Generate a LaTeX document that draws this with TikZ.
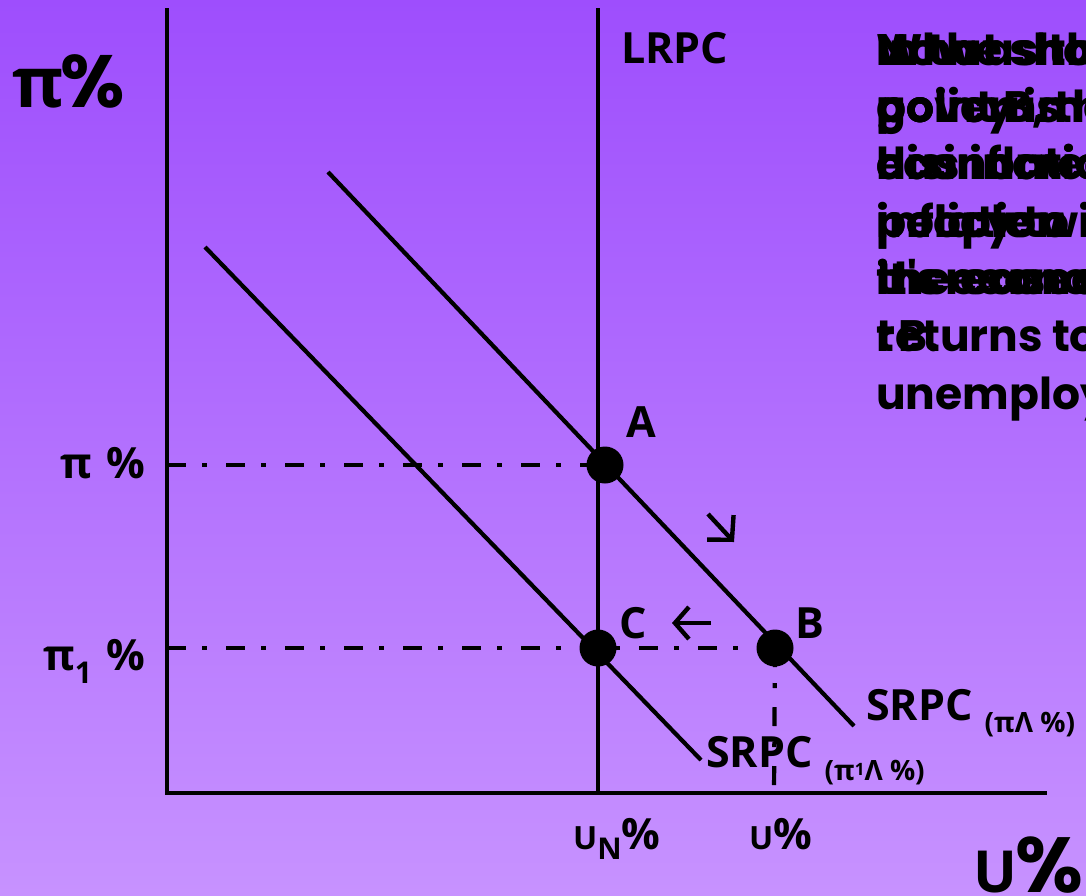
\documentclass[tikz,border=0pt]{standalone}
\usepackage{fontspec}
\setmainfont{Open Sans}
\newfontfamily\gothic{Poppins}
\usetikzlibrary{arrows.meta}
\definecolor{bgtop}{RGB}{158,78,253}
\definecolor{bgbot}{RGB}{199,146,255}
\begin{document}
\begin{tikzpicture}[x=1pt,y=-1pt,
  axisline/.style={line width=4.2pt},
  curveline/.style={line width=4.2pt},
  guideline/.style={line width=4.2pt, dash pattern=on 19pt off 16pt on 5pt off 19pt},
  eqpt/.style={circle, fill=black, minimum size=37pt, inner sep=0pt},
  lab/.style={font=\bfseries\fontsize{43}{48}\selectfont, inner sep=0pt, anchor=base west},
  biglab/.style={inner sep=0pt, anchor=base west},
  para/.style={font=\gothic\bfseries\fontsize{44}{50}\selectfont, inner sep=0pt, anchor=base west},
  arrd/.style={line width=4.4pt, -{Straight Barb[length=17pt,width=36pt,line width=4.4pt]}},
  arrl/.style={line width=4.4pt, -{Straight Barb[length=14pt,width=32pt,line width=4.4pt]}}
]
\useasboundingbox (0,0) rectangle (1086,895);
\shade[top color=bgtop, bottom color=bgbot] (0,0) rectangle (1086,895);
\begin{scope}
\clip (0,0) rectangle (1086,895);

% axes
\coordinate (ytop) at (167,8);
\coordinate (origin) at (167,793);
\coordinate (xend) at (1047,793);
\draw[axisline] (ytop) -- (origin) -- (xend);

% LRPC
\coordinate (lrtop) at (598,8);
\coordinate (lrbot) at (598,793);
\draw[axisline] (lrtop) -- (lrbot);

% SRPC curves
\coordinate (s1a) at (328,172);
\coordinate (s1b) at (854,726);
\coordinate (s2a) at (205,247);
\coordinate (s2b) at (701,760);
\draw[curveline] (s1a) -- (s1b);
\draw[curveline] (s2a) -- (s2b);

% points
\node[eqpt] (A) at (605,465) {};
\node[eqpt] (C) at (598,648) {};
\node[eqpt] (B) at (775,648) {};

% guides
\coordinate (yA) at (167,465);
\coordinate (yC) at (167,648);
\coordinate (xB) at (774,793);
\draw[guideline] (yA) -- (A.center);
\draw[guideline] (yC) -- (B.center);
\draw[guideline] (B.center) -- (xB);

% arrows
\coordinate (d1) at (708,514);
\coordinate (d2) at (734,542);
\draw[arrd] (d1) -- (d2);
\coordinate (l1) at (711,623);
\coordinate (l2) at (672,623);
\draw[arrl] (l1) -- (l2);

% labels
\node[biglab] (piaxis) at (12,107) {\bfseries\fontsize{70}{70}\selectfont π\kern-3pt{\gothic\bfseries\fontsize{74}{74}\selectfont\%}};
\node[biglab] (uaxis) at (973,892) {\bfseries\fontsize{58}{58}\selectfont U\kern-2pt{\gothic\bfseries\fontsize{78}{78}\selectfont\%}};
\node[lab] (lrpc) at (621,63) {LRPC};
\node[lab] (pilab) at (60,478) {π\,\,\%};
\node[lab] (pi1lab) at (43,670) {π\raisebox{-13pt}{\fontsize{30}{30}\selectfont 1}\,\,\%};
\node[lab] (Alab) at (626,437) {A};
\node[lab] (Clab) at (619,638) {C};
\node[lab] (Blab) at (795,638) {B};
\node[lab] (srpc1) at (866,720) {SRPC\kern 12pt\raisebox{-12pt}{\fontsize{28}{28}\selectfont (πΛ \%)}};
\node[lab] (srpc2) at (706,767) {SRPC\kern 12pt\raisebox{-13pt}{\fontsize{28}{28}\selectfont (π\raisebox{5pt}{\fontsize{17}{17}\selectfont 1}Λ \%)}};
\node[lab] (unlab) at (573,849) {{\fontsize{32}{32}\selectfont U}\raisebox{-10pt}{\fontsize{30}{30}\selectfont N}\%};
\node[lab] (ulab) at (749,849) {{\fontsize{32}{32}\selectfont U}\%};

% overlapping paragraph
\node[para] (p1a) at (876,65) {In the short};
\node[para] (p1b) at (876,65) {Now as the};
\node[para] (p1c) at (876,65) {What should};
\node[para] (p2a) at (876,122) {government};
\node[para] (p2b) at (876,122) {policy is};
\node[para] (p2c) at (876,122) {point B, the};
\node[para] (p3a) at (876,179) {has increased};
\node[para] (p3b) at (876,179) {disinflation};
\node[para] (p3c) at (876,179) {economic};
\node[para] (p4a) at (876,237) {inflation};
\node[para] (p4b) at (876,237) {policy to};
\node[para] (p4c) at (876,237) {people will};
\node[para] (p5a) at (876,294) {the economy};
\node[para] (p5b) at (876,294) {it's economy};
\node[para] (p5c) at (876,294) {increases};
\node[para] (p6a) at (876,351) {returns to};
\node[para] (p6b) at (876,351) {t\kern4pt B.};
\node[para] (p7) at (876,409) {unemployment};
\end{scope}
\end{tikzpicture}
\end{document}
